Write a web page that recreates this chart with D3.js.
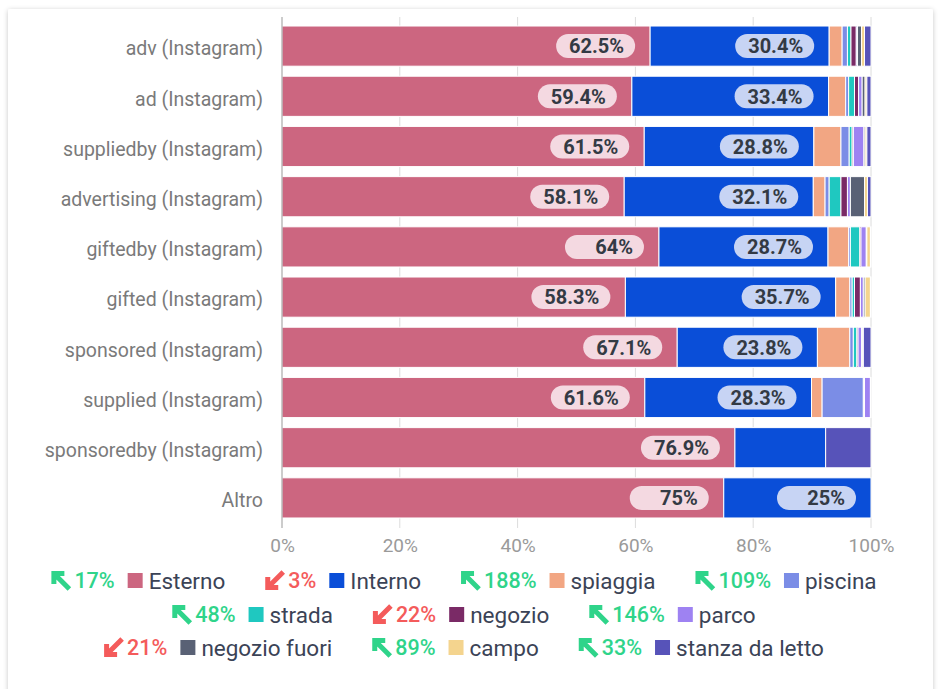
<html>
<meta charset="utf-8" />
<head>
<title>Luoghi per hashtag</title>
<style>
body { margin: 0; background: #ffffff; }
svg { display: block; }
svg text { font-family: Roboto, sans-serif; }
</style>
<script src="https://d3js.org/d3.v7.min.js" charset="utf-8"></script>
</head>
<body>
<svg class="chart"></svg>
<script>
var chartWidth = 941;
var chartHeight = 689;

// categories (rows)
var categories = ["adv (Instagram)", "ad (Instagram)", "suppliedby (Instagram)", "advertising (Instagram)",
  "giftedby (Instagram)", "gifted (Instagram)", "sponsored (Instagram)", "supplied (Instagram)",
  "sponsoredby (Instagram)", "Altro"];

// series values, percent per row
var esterno      = [62.5, 59.4, 61.5, 58.1, 64.0, 58.3, 67.1, 61.6, 76.9, 75.0];
var interno      = [30.4, 33.4, 28.8, 32.1, 28.7, 35.7, 23.8, 28.3, 15.4, 25.0];
var spiaggia     = [2.2, 2.9, 4.6, 2.0, 3.5, 2.4, 5.5, 1.8, 0, 0];
var piscina      = [0.9, 0.5, 1.4, 0.7, 0.3, 0.4, 0.6, 7.0, 0, 0];
var strada       = [0.6, 1.0, 0.5, 2.0, 1.6, 0.4, 0.6, 0.1, 0, 0];
var negozio      = [0.9, 0.7, 0.2, 1.1, 0.2, 1.0, 0.2, 0.1, 0, 0];
var parco        = [0.2, 0.6, 1.8, 0.5, 0.9, 0.5, 0.6, 1.0, 0, 0];
var negozioFuori = [0.7, 0.5, 0.2, 2.4, 0.1, 0.3, 0.2, 0, 0, 0];
var campo        = [0.5, 0.3, 0.3, 0.5, 0.6, 0.9, 0.1, 0, 0, 0];
var stanza       = [1.1, 0.7, 0.7, 0.6, 0.1, 0.1, 1.3, 0.1, 7.7, 0];

var seriesNames = ["Esterno", "Interno", "spiaggia", "piscina", "strada", "negozio", "parco",
  "negozio fuori", "campo", "stanza da letto"];
var seriesValues = [esterno, interno, spiaggia, piscina, strada, negozio, parco, negozioFuori, campo, stanza];

// legend change indicators
var changeLabels = ["17%", "3%", "188%", "109%", "48%", "22%", "146%", "21%", "89%", "33%"];
var changeUp     = [true, false, true, true, true, false, true, false, true, true];

var xTicks = [0, 20, 40, 60, 80, 100];

var colors = ["#cc6680", "#0a4ed8", "#f2a683", "#7b8de6", "#1fc8c0", "#7a2a66", "#9e82f2",
  "#596175", "#f4d48e", "#5753b9"];
var pillColors = { "Esterno": "#f4d9e1", "Interno": "#c7d4f4" };

/*************
* Make Chart *
*************/
var svg = d3.select(".chart")
  .attr("width", chartWidth)
  .attr("height", chartHeight);

var defs = svg.append("defs");
var shadow = defs.append("filter").attr("id", "shadow")
  .attr("x", "-5%").attr("y", "-5%").attr("width", "110%").attr("height", "110%");
shadow.append("feDropShadow").attr("dx", 0).attr("dy", 1).attr("stdDeviation", 2.5)
  .attr("flood-color", "#000").attr("flood-opacity", 0.22);

// card
svg.append("rect")
  .attr("x", 8).attr("y", 9).attr("width", 925).attr("height", 700)
  .attr("rx", 2)
  .attr("fill", "#fff")
  .attr("filter", "url(#shadow)");

var x = d3.scaleLinear().domain([0, 100]).range([282, 871]);
var y = d3.scaleBand().domain(categories).range([21, 523])
  .paddingInner(0.2).paddingOuter(0.1);

// grid
svg.append("g").selectAll("line")
  .data(xTicks.slice(1))
  .enter().append("line")
  .attr("x1", function(d) { return x(d); })
  .attr("x2", function(d) { return x(d); })
  .attr("y1", 17).attr("y2", 528)
  .attr("stroke", "#dcdcdc").attr("stroke-width", 1);

// stacked data
var rows = categories.map(function(c, i) {
  var row = { cat: c };
  seriesNames.forEach(function(s, j) { row[s] = seriesValues[j][i]; });
  return row;
});
var stacked = d3.stack().keys(seriesNames)(rows);

var layers = svg.append("g").selectAll("g")
  .data(stacked)
  .enter().append("g")
  .attr("fill", function(d, i) { return colors[i]; });

layers.selectAll("rect")
  .data(function(d) { return d.filter(function(p) { return p[1] - p[0] > 0; }); })
  .enter().append("rect")
  .attr("x", function(d) { return x(d[0]); })
  .attr("width", function(d) { return x(d[1]) - x(d[0]); })
  .attr("y", function(d) { return y(d.data.cat); })
  .attr("height", y.bandwidth())
  .attr("stroke", "#fff")
  .attr("stroke-width", 1);

// value pills for Esterno and Interno
stacked.slice(0, 2).forEach(function(layer) {
  var g = svg.append("g");
  layer.forEach(function(d) {
    var v = d[1] - d[0];
    if (v < 20) return;
    var right = x(d[1]) - 15;
    var cy = y(d.data.cat) + y.bandwidth() / 2;
    g.append("rect")
      .attr("x", right - 79).attr("y", cy - 12)
      .attr("width", 79).attr("height", 24)
      .attr("rx", 12)
      .attr("fill", pillColors[layer.key]);
    g.append("text")
      .attr("x", right - 11).attr("y", cy)
      .attr("dy", "0.36em")
      .attr("text-anchor", "end")
      .attr("font-size", 20)
      .attr("font-weight", "bold")
      .attr("fill", "#333a44")
      .text(d3.format(".3~")(v) + "%");
  });
});

// y axis line and labels
svg.append("line")
  .attr("x1", 282).attr("x2", 282).attr("y1", 17).attr("y2", 528)
  .attr("stroke", "#999").attr("stroke-width", 1);

var yAxis = svg.append("g")
  .attr("transform", "translate(282,3)")
  .call(d3.axisLeft(y).tickSize(0).tickPadding(19));
yAxis.select(".domain").remove();
yAxis.selectAll("text")
  .attr("font-size", 19.5)
  .attr("fill", "#7a7a7a")
  .style("font-family", "Roboto, sans-serif");

var xAxis = svg.append("g")
  .attr("transform", "translate(0,528)")
  .call(d3.axisBottom(x).tickValues(xTicks).tickSize(0).tickPadding(11)
    .tickFormat(function(d) { return d + "%"; }));
xAxis.select(".domain").remove();
xAxis.selectAll("text")
  .attr("font-size", 19)
  .attr("fill", "#9a9a9a")
  .style("font-family", "Roboto, sans-serif");

/*********
* Legend *
*********/
var legend = svg.append("g");
var items = [];
seriesNames.forEach(function(name, i) {
  var g = legend.append("g");
  var col = changeUp[i] ? "#2fd48a" : "#f45b5b";
  // arrow icon, 19x19 box
  if (changeUp[i]) {
    g.append("path")
      .attr("d", "M2.5,13 L2.5,2.5 L13,2.5 M2.5,2.5 L18,18")
      .attr("fill", "none").attr("stroke", col).attr("stroke-width", 5)
      .attr("stroke-linecap", "butt");
  } else {
    g.append("path")
      .attr("d", "M2.5,6 L2.5,16.5 L13,16.5 M2.5,16.5 L18,1")
      .attr("fill", "none").attr("stroke", col).attr("stroke-width", 5)
      .attr("stroke-linecap", "butt");
  }
  var pct = g.append("text")
    .attr("x", 23).attr("y", 9.5).attr("dy", "0.36em")
    .attr("font-size", 21.5).attr("font-weight", 500).attr("fill", col)
    .text(changeLabels[i]);
  var pw = pct.node().getComputedTextLength();
  var sx = 23 + pw + 13;
  g.append("rect")
    .attr("x", sx).attr("y", 2).attr("width", 15).attr("height", 15)
    .attr("fill", colors[i]);
  var lab = g.append("text")
    .attr("x", sx + 21).attr("y", 9.5).attr("dy", "0.36em")
    .attr("font-size", 22.5).attr("fill", "#3b4356")
    .text(name);
  var w = sx + 21 + lab.node().getComputedTextLength();
  items.push({ g: g, w: w });
});

// flow rows, centered
var maxW = 840, gap = 40, center = 464, rowY = [571, 605, 638];
var lines = [[]], lineW = [0];
items.forEach(function(it) {
  var li = lines.length - 1;
  var nw = lineW[li] + (lines[li].length ? gap : 0) + it.w;
  if (lines[li].length && nw > maxW) {
    lines.push([it]); lineW.push(it.w);
  } else {
    lines[li].push(it); lineW[li] = nw;
  }
});
lines.forEach(function(line, li) {
  var cx = center - lineW[li] / 2;
  line.forEach(function(it) {
    it.g.attr("transform", "translate(" + cx + "," + rowY[li] + ")");
    cx += it.w + gap;
  });
});
</script>
</body>
</html>
